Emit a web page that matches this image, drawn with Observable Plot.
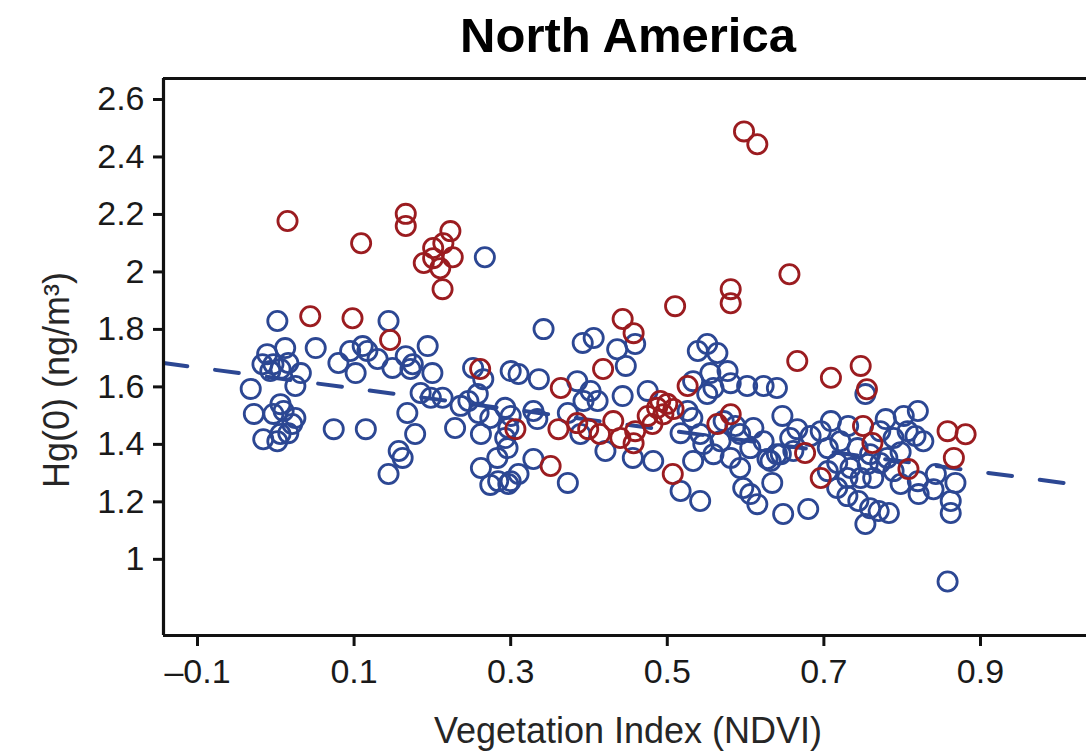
<!DOCTYPE html>
<html>
<head>
<meta charset="utf-8">
<script src="https://cdn.jsdelivr.net/npm/d3@7"></script>
<script src="https://cdn.jsdelivr.net/npm/@observablehq/plot@0.6"></script>
<style>
  html, body { margin: 0; padding: 0; background: #fff; }
  #chart { width: 1086px; height: 752px; }
</style>
</head>
<body>
<div id="chart"></div>
<script>
// ---- Data ----
const titleText = "North America";
const xLabel = "Vegetation Index (NDVI)";
const yLabel = "Hg(0) (ng/m³)";
const xTicks = [-0.1, 0.1, 0.3, 0.5, 0.7, 0.9];
const yTicks = [1, 1.2, 1.4, 1.6, 1.8, 2, 2.2, 2.4, 2.6];

// Blue series (NDVI, Hg(0))
const blueX = [0.002,0.051,-0.011,0.012,-0.017,-0.003,0.016,0.032,-0.007,0.006,0.025,-0.032,-0.028,0.006,0.010,0.025,0.021,-0.016,0.006,0.002,0.016,-0.003,0.074,0.115,0.080,0.102,0.095,0.111,0.117,0.130,0.144,0.149,0.166,0.175,0.194,0.200,0.172,0.168,0.178,0.157,0.162,0.144,0.185,0.198,0.213,0.236,0.259,0.229,0.262,0.262,0.283,0.284,0.297,0.252,0.265,0.300,0.267,0.246,0.258,0.274,0.293,0.274,0.297,
0.342,0.392,0.406,0.436,0.459,0.447,0.310,0.336,0.385,0.402,0.393,0.411,0.443,0.475,0.293,0.300,0.329,0.334,0.373,0.389,0.296,0.329,0.300,0.310,0.373,0.421,0.456,0.482,0.517,0.532,0.517,0.542,0.539,0.551,0.564,0.555,0.577,0.581,0.551,0.602,0.623,0.640,0.647,0.657,0.623,0.593,0.606,0.568,0.546,0.533,0.559,0.581,0.593,0.597,0.606,0.615,0.634,0.648,0.632,0.661,0.680,
0.709,0.731,0.779,0.802,0.820,0.827,0.817,0.753,0.645,0.628,0.705,0.717,0.734,0.756,0.772,0.789,0.717,0.730,0.744,0.759,0.770,0.783,0.753,0.821,0.840,0.862,0.862,0.868,0.843,0.858,0.721,0.743,0.759,0.781,0.798,0.789,0.772,0.807,0.820,0.705,0.730,0.747,0.763,0.798,0.666,0.683,0.696,
0.526,0.542,0.610,0.533,0.559,0.640,0.572,0.587];
const blueY = [1.829,1.735,1.714,1.735,1.679,1.679,1.683,1.648,1.655,1.662,1.603,1.593,1.506,1.540,1.516,1.492,1.471,1.418,1.436,1.411,1.439,1.506,1.453,1.453,1.683,1.648,1.725,1.742,1.725,1.697,1.829,1.666,1.707,1.679,1.742,1.648,1.662,1.509,1.436,1.377,1.353,1.297,1.579,1.562,1.562,1.534,1.509,1.457,1.436,1.318,1.353,1.272,1.457,1.666,1.627,1.655,2.051,1.551,1.575,1.492,1.422,1.259,1.262,
1.801,1.753,1.770,1.731,1.749,1.673,1.645,1.627,1.620,1.586,1.551,1.551,1.568,1.586,1.527,1.499,1.516,1.488,1.509,1.436,1.387,1.349,1.272,1.297,1.266,1.377,1.353,1.342,1.439,1.492,1.238,1.203,1.725,1.749,1.718,1.648,1.655,1.613,1.575,1.603,1.603,1.596,1.499,1.422,1.411,1.436,1.387,1.411,1.401,1.342,1.366,1.353,1.318,1.248,1.227,1.192,1.266,1.158,1.342,1.377,1.175,
1.481,1.464,1.488,1.499,1.516,1.411,1.429,1.575,1.366,1.349,1.387,1.335,1.318,1.332,1.335,1.307,1.248,1.220,1.203,1.178,1.168,1.161,1.123,1.227,1.244,1.203,1.161,1.266,1.297,0.923,1.411,1.387,1.366,1.353,1.373,1.422,1.446,1.446,1.272,1.307,1.283,1.283,1.283,1.262,1.453,1.429,1.446,
1.516,1.436,1.457,1.620,1.596,1.366,1.481,1.464];

// Red series (NDVI, Hg(0))
const redX = [0.015,0.044,0.098,0.109,0.146,0.166,0.166,0.223,0.214,0.201,0.189,0.201,0.226,0.210,0.213,0.261,0.306,0.351,0.443,0.457,0.418,0.364,0.361,0.385,0.399,0.414,0.431,0.440,0.457,0.459,0.475,0.487,0.500,0.508,0.481,0.495,0.491,0.526,0.507,0.581,0.564,0.666,0.510,0.581,0.581,0.598,0.615,0.656,0.709,0.747,0.755,0.750,0.762,0.676,0.696,0.808,0.858,0.881,0.866];
const redY = [2.177,1.846,1.839,2.100,1.763,2.202,2.160,2.142,2.100,2.083,2.031,2.048,2.051,2.013,1.940,1.662,1.453,1.325,1.836,1.787,1.662,1.596,1.453,1.474,1.453,1.436,1.481,1.422,1.404,1.446,1.499,1.527,1.541,1.523,1.471,1.505,1.551,1.603,1.297,1.505,1.471,1.690,1.881,1.940,1.891,2.489,2.444,1.992,1.632,1.673,1.592,1.464,1.405,1.370,1.283,1.314,1.446,1.435,1.353];

// Fitted regression line (dashed): Hg = intercept + slope * NDVI
const fitIntercept = [1.631];
const fitSlope = [-0.363];

// ---- Build tables ----
const blue = blueX.map((x, i) => ({x, y: blueY[i]}));
const red = redX.map((x, i) => ({x, y: redY[i]}));
const xDomain = [-0.1434, 1.0354];
const yDomain = [0.735, 2.673];
const fitLine = xDomain.map(x => ({x, y: fitIntercept[0] + fitSlope[0] * x}));

const BLUE = "#2c4793";
const RED = "#9b1c20";
const FONT = "'Liberation Sans', Arial, Helvetica, sans-serif";

const chart = Plot.plot({
  width: 1086,
  height: 752,
  marginTop: 78,
  marginLeft: 163,
  marginRight: 0,
  marginBottom: 117,
  style: {fontFamily: FONT, background: "#fff", color: "#1a1a1a"},
  x: {domain: xDomain, ticks: xTicks},
  y: {domain: yDomain, ticks: yTicks},
  marks: [
    Plot.line(fitLine, {x: "x", y: "y", stroke: BLUE, strokeWidth: 4, strokeDasharray: "24,28", clip: true}),
    Plot.dot(blue, {x: "x", y: "y", r: 9.6, stroke: BLUE, strokeWidth: 2.8, fill: "none", clip: true}),
    Plot.dot(red, {x: "x", y: "y", r: 9.6, stroke: RED, strokeWidth: 2.8, fill: "none", clip: true}),
    Plot.ruleX([xDomain[0]], {stroke: "#111", strokeWidth: 3.2}),
    Plot.ruleY([yDomain[0], yDomain[1]], {stroke: "#111", strokeWidth: 3.2}),
    Plot.axisY(yTicks, {
      tickSize: 10, tickPadding: 9, strokeWidth: 3, stroke: "#111",
      fontSize: 34, fill: "#1a1a1a",
      tickFormat: d => String(d),
      label: null
    }),
    Plot.axisX(xTicks, {
      tickSize: 11, tickPadding: 12, strokeWidth: 3, stroke: "#111",
      fontSize: 34, fill: "#1a1a1a",
      tickFormat: d => (d < 0 ? "\u2013" : "") + String(Math.abs(d)),
      label: null
    }),
    Plot.text([yLabel], {
      frameAnchor: "left", textAnchor: "middle", rotate: -90, dx: -106, dy: 23, lineAnchor: "middle",
      fontSize: 36, fill: "#262626"
    }),
    Plot.text([xLabel], {
      frameAnchor: "bottom", lineAnchor: "bottom", dy: 107, dx: 3,
      fontSize: 36, fill: "#262626"
    }),
    Plot.text([titleText], {
      frameAnchor: "top", lineAnchor: "bottom", dy: -27, dx: 3,
      fontSize: 49, fontWeight: "bold", fill: "#000"
    })
  ]
});

document.getElementById("chart").appendChild(chart);
</script>
</body>
</html>
